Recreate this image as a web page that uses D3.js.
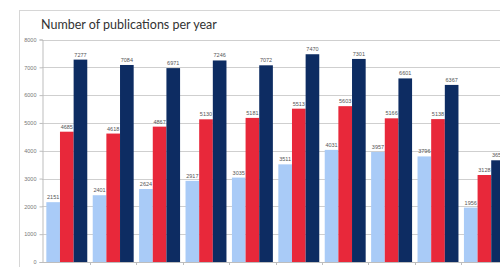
<!DOCTYPE html>
<html>
<head>
<meta charset="utf-8">
<script src="https://cdn.jsdelivr.net/npm/d3@7"></script>
<style>
  body { margin: 0; background: #fff; }
  svg { display: block; }
</style>
</head>
<body>
<div id="chart"></div>
<script>
// groups (years not shown in the crop), one entry per cluster
var groups = ["g1", "g2", "g3", "g4", "g5", "g6", "g7", "g8", "g9", "g10"];
var series = ["s1", "s2", "s3"];
var lightValues = [2151, 2401, 2624, 2917, 3035, 3511, 4031, 3957, 3796, 1956];
var redValues = [4685, 4618, 4867, 5130, 5181, 5513, 5603, 5166, 5138, 3128];
var navyValues = [7277, 7084, 6971, 7246, 7072, 7470, 7301, 6601, 6367, 3657];
var yTicks = [0, 1000, 2000, 3000, 4000, 5000, 6000, 7000, 8000];

var colors = ["#a9cbf7", "#e8283a", "#0d2c62"];
var allValues = [lightValues, redValues, navyValues];

var width = 500, height = 267;
var margin = { top: 39.5, left: 42, bottom: 5 };

var svg = d3.select("#chart").append("svg")
  .attr("width", width)
  .attr("height", height);

// outer chart frame (runs off the right side like the screenshot)
svg.append("rect")
  .attr("x", 19.5).attr("y", 10.5)
  .attr("width", 700).attr("height", 400)
  .attr("fill", "#fff")
  .attr("stroke", "#d6d6d6");

svg.append("text")
  .attr("x", 41).attr("y", 28.5)
  .attr("font-family", "Lato, 'Open Sans', sans-serif")
  .attr("font-size", 12.5)
  .attr("fill", "#333")
  .text("Number of publications per year");

var x0 = d3.scaleBand()
  .domain(groups)
  .range([43.6, 43.6 + 46.4 * groups.length])
  .padding(0);

var x1 = d3.scaleBand()
  .domain(series)
  .range([0, x0.bandwidth()])
  .paddingOuter(0.2);

var y = d3.scaleLinear()
  .domain([0, 8000])
  .range([height - margin.bottom, margin.top]);

// gridlines
svg.append("g")
  .selectAll("line")
  .data(yTicks.slice(1))
  .join("line")
  .attr("x1", margin.left).attr("x2", width)
  .attr("y1", function(d) { return Math.round(y(d)) + 0.5; })
  .attr("y2", function(d) { return Math.round(y(d)) + 0.5; })
  .attr("stroke", "#cfcfcf");

// bars
var g = svg.append("g")
  .selectAll("g")
  .data(groups)
  .join("g")
  .attr("transform", function(d) { return "translate(" + x0(d) + ",0)"; });

series.forEach(function(s, i) {
  g.append("rect")
    .attr("x", x1(s))
    .attr("width", x1.bandwidth())
    .attr("y", function(d, j) { return y(allValues[i][j]); })
    .attr("height", function(d, j) { return y(0) - y(allValues[i][j]); })
    .attr("fill", colors[i]);

  g.append("text")
    .attr("x", x1(s) + x1.bandwidth() / 2)
    .attr("y", function(d, j) { return y(allValues[i][j]) - 3; })
    .attr("text-anchor", "middle")
    .attr("font-family", "'Liberation Sans', Arial, sans-serif")
    .attr("font-size", 5.5)
    .attr("fill", "#555")
    .text(function(d, j) { return allValues[i][j]; });
});

// y axis
var yAxis = d3.axisLeft(y).tickValues(yTicks).tickFormat(d3.format("d")).tickSize(3).tickPadding(3);
var ya = svg.append("g")
  .attr("transform", "translate(" + (margin.left + 0.5) + ",0)")
  .call(yAxis);
ya.select(".domain").attr("stroke", "#bdbdbd");
ya.selectAll(".tick line").attr("stroke", "#bdbdbd");
ya.selectAll(".tick text")
  .attr("font-family", "'Liberation Sans', Arial, sans-serif")
  .attr("font-size", 5.5)
  .attr("fill", "#777");

// x axis with boundary ticks
var xa = svg.append("g");
xa.append("line")
  .attr("x1", margin.left).attr("x2", width)
  .attr("y1", Math.round(y(0)) + 0.5).attr("y2", Math.round(y(0)) + 0.5)
  .attr("stroke", "#bdbdbd");
xa.selectAll(".bt")
  .data(groups)
  .join("line")
  .attr("class", "bt")
  .attr("x1", function(d) { return Math.round(x0(d) + x0.bandwidth()) + 0.5; })
  .attr("x2", function(d) { return Math.round(x0(d) + x0.bandwidth()) + 0.5; })
  .attr("y1", y(0)).attr("y2", y(0) + 3)
  .attr("stroke", "#bdbdbd");
</script>
</body>
</html>
